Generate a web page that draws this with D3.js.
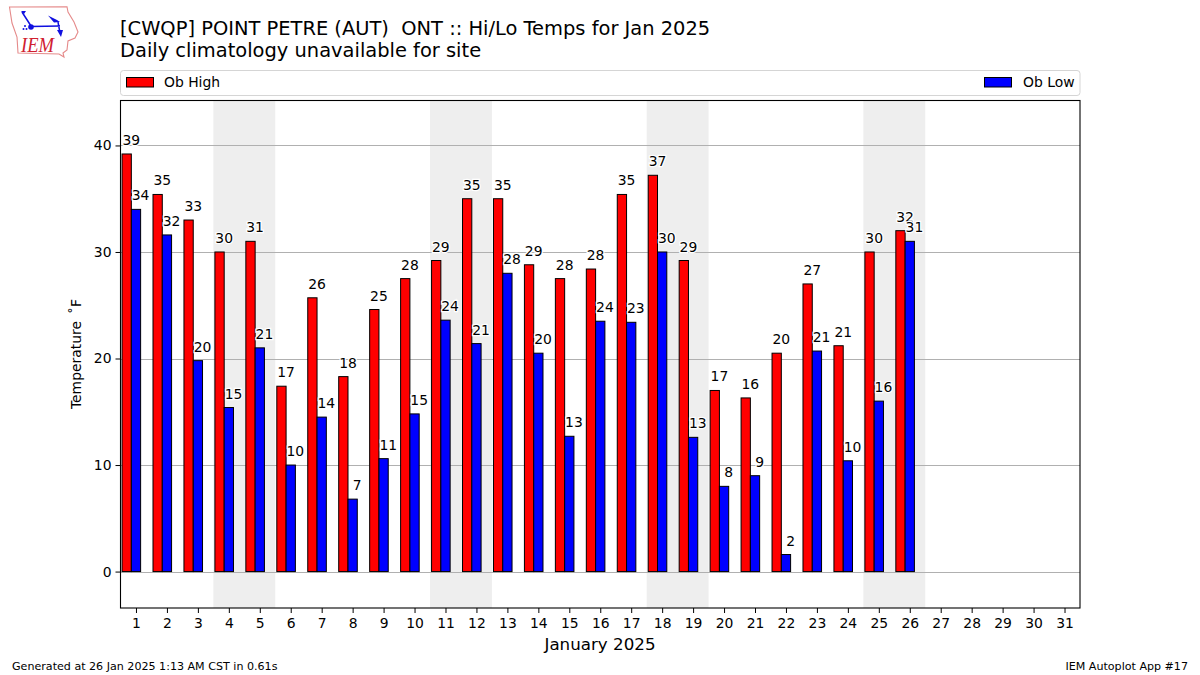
<!DOCTYPE html>
<html><head><meta charset="utf-8">
<script src="https://cdnjs.cloudflare.com/ajax/libs/d3/7.8.5/d3.min.js"></script>
<style>html,body{margin:0;background:#fff}svg{display:block}text{font-family:"DejaVu Sans",sans-serif;fill:#000}</style>
</head><body><svg id="c" width="1200" height="675"></svg>
<script>
const days = d3.range(1, 32);
const obHigh = [39.2,35.4,33,30,31,17.4,25.7,18.3,24.6,27.5,29.2,35,35,28.8,27.5,28.4,35.4,37.2,29.2,17,16.3,20.5,27,21.2,30,32];
const obLow = [34,31.6,19.8,15.4,21,10,14.5,6.8,10.6,14.8,23.6,21.4,28,20.5,12.7,23.5,23.4,30,12.6,8,9,1.6,20.7,10.4,16,31];
const highLabels = [39,35,33,30,31,17,26,18,25,28,29,35,35,29,28,28,35,37,29,17,16,20,27,21,30,32];
const lowLabels = [34,32,20,15,21,10,14,7,11,15,24,21,28,20,13,24,23,30,13,8,9,2,21,10,16,31];
const weekends = [[3.5,5.5],[10.5,12.5],[17.5,19.5],[24.5,26.5]];
const yTicks = [0,10,20,30,40];
const titleLines = ["[CWQP] POINT PETRE (AUT)  ONT :: Hi/Lo Temps for Jan 2025","Daily climatology unavailable for site"];

const svg = d3.select("#c");
const L=120.5,R=1080,T=100.5,B=608;
const x = d3.scaleLinear().domain([0.5,31.5]).range([L,R]);
const y = d3.scaleLinear().domain([-3.42,44.22]).range([B,T]);
const barW = 0.3;

svg.append("g").selectAll("rect").data(weekends).join("rect")
  .attr("x",d=>x(d[0])).attr("width",d=>x(d[1])-x(d[0]))
  .attr("y",T).attr("height",B-T).attr("fill","#eeeeee");
svg.append("g").selectAll("line").data(yTicks).join("line")
  .attr("x1",L).attr("x2",R).attr("y1",d=>Math.round(y(d))+.5).attr("y2",d=>Math.round(y(d))+.5)
  .attr("stroke","#b0b0b0").attr("stroke-width",1);

function bars(vals,fill,off){
  svg.append("g").selectAll("rect").data(vals).join("rect")
    .attr("x",(d,i)=>x(i+1+off)).attr("width",x(barW)-x(0))
    .attr("y",d=>y(d)).attr("height",d=>y(0)-y(d))
    .attr("fill",fill).attr("stroke","#000").attr("stroke-width",1);
}
bars(obHigh,"#ff0000",-0.45);
bars(obLow,"#0000ff",-0.15);

function labels(vals,txt,off){
  svg.append("g").selectAll("text").data(vals).join("text")
    .attr("x",(d,i)=>x(i+1+off)).attr("y",d=>y(d)-9)
    .attr("text-anchor","middle").attr("font-size",13.9)
    .attr("stroke","#fff").attr("stroke-width",2.5).attr("paint-order","stroke")
    .text((d,i)=>txt[i]);
}
labels(obHigh,highLabels,-0.15);
labels(obLow,lowLabels,0.15);

svg.append("rect").attr("x",L).attr("y",T).attr("width",R-L).attr("height",B-T)
  .attr("fill","none").attr("stroke","#000").attr("stroke-width",1.1);

const gx = svg.append("g").attr("transform",`translate(0,${B})`)
  .call(d3.axisBottom(x).tickValues(days).tickFormat(d3.format("d")).tickSize(5).tickPadding(5));
const gy = svg.append("g").attr("transform",`translate(${L},0)`)
  .call(d3.axisLeft(y).tickValues(yTicks).tickSize(5).tickPadding(4));
[gx,gy].forEach(g=>{g.select(".domain").remove();g.selectAll("text").attr("font-size",13.9).attr("font-family",'"DejaVu Sans"');g.selectAll("line").attr("stroke","#000")});

svg.append("text").attr("x",600).attr("y",649.5).attr("text-anchor","middle").attr("font-size",16.7).text("January 2025");
svg.append("text").attr("transform","translate(81,354) rotate(-90)").attr("text-anchor","middle").attr("font-size",13.9).text("Temperature \u2009\u02daF");

svg.selectAll(".t").data(titleLines).join("text").attr("class","t").attr("x",120).attr("y",(d,i)=>35+i*22)
  .attr("font-size",19.45).style("white-space","pre").text(d=>d);

svg.append("rect").attr("x",120.5).attr("y",70.5).attr("width",959.5).attr("height",25).attr("rx",3)
  .attr("fill","#fff").attr("stroke","#d5d5d5");
svg.append("rect").attr("x",126.5).attr("y",77.5).attr("width",27).attr("height",9.5).attr("fill","#ff0000").attr("stroke","#000");
svg.append("text").attr("x",164).attr("y",87).attr("font-size",13.9).text("Ob High");
svg.append("rect").attr("x",984.5).attr("y",77.5).attr("width",27).attr("height",9.5).attr("fill","#0000ff").attr("stroke","#000");
svg.append("text").attr("x",1023).attr("y",87).attr("font-size",13.9).text("Ob Low");

svg.append("text").attr("x",12).attr("y",670).attr("font-size",11.1).text("Generated at 26 Jan 2025 1:13 AM CST in 0.61s");
svg.append("text").attr("x",1188).attr("y",670).attr("text-anchor","end").attr("font-size",11.1).text("IEM Autoplot App #17");

const logo = svg.append("g");
logo.append("path").attr("d","M9.5 7 L67 6.7 L68 12 L74 22 L78 32 L75 38 L68 41 L67 50 L63 53 L64 57 L59 54 L18 53 L17 37 L12 23 Z")
  .attr("fill","none").attr("stroke","#e58a8a").attr("stroke-width",1.1);
logo.append("path").attr("d","M31 26.5 L60 26 M58 22 L60 33 M22 12 L31 26").attr("fill","none").attr("stroke","#1010e0").attr("stroke-width",1.5);
logo.append("path").attr("d","M48 15.5 L57 20 L60 22 L54 22.5 Z M57 30 L63 30 L61 37 Z M21 11 L26 11 L24 14 Z").attr("fill","#1010e0");
logo.append("circle").attr("cx",31).attr("cy",27).attr("r",2.8).attr("fill","#1010e0");
logo.selectAll(".dot").data([[23.5,29],[26.5,29],[25,26]]).join("circle").attr("class","dot").attr("cx",d=>d[0]).attr("cy",d=>d[1]).attr("r",1).attr("fill","#1010e0");
logo.append("text").attr("x",21).attr("y",52).attr("font-size",21).attr("font-style","italic")
  .attr("textLength",33).attr("lengthAdjust","spacingAndGlyphs")
  .style("font-family",'"Liberation Serif"').style("fill","#d02030").text("IEM");
</script></body></html>
